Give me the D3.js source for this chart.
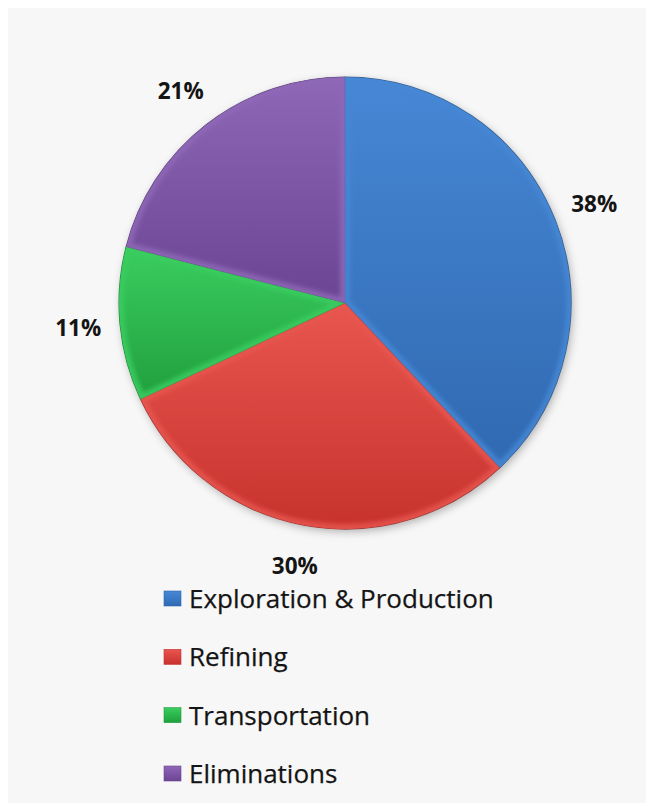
<!DOCTYPE html>
<html>
<head>
<meta charset="utf-8">
<script src="https://cdn.jsdelivr.net/npm/d3@7"></script>
<style>
  html, body { margin: 0; padding: 0; background: #ffffff; }
  svg { display: block; }
</style>
</head>
<body>
<svg id="chart" width="653" height="806"></svg>
<script>
// Segment shares (percent) and their display order, clockwise from 12 o'clock
const segments = ["Exploration & Production", "Refining", "Transportation", "Eliminations"];
const shares = [38, 30, 11, 21];
const shareLabels = ["38%", "30%", "11%", "21%"];

// Base, light and dark tones per segment
const baseColors  = ["#3c7bc8", "#dc4440", "#2cb94d", "#7f56a9"];
const lightColors = ["#4787d5", "#e85650", "#3acd5f", "#8e68b7"];
const darkColors  = ["#3069b1", "#c7322d", "#219f3e", "#6b4593"];

const W = 653, H = 806;
const cx = 345, cy = 303, R = 226, labelR = 268;

const svg = d3.select("#chart");
const defs = svg.append("defs");

// Background panel
svg.append("rect").attr("x", 8).attr("y", 8)
  .attr("width", 638).attr("height", 795)
  .attr("fill", "#f7f7f7");

// Soft drop shadow under the pie
const shadow = defs.append("filter").attr("id", "pieShadow")
  .attr("x", "-20%").attr("y", "-20%").attr("width", "140%").attr("height", "140%");
shadow.append("feDropShadow").attr("dx", 2).attr("dy", 3)
  .attr("stdDeviation", 4).attr("flood-color", "#000").attr("flood-opacity", 0.28);

// Blur used for the bevel highlight
defs.append("filter").attr("id", "bevelBlur")
  .append("feGaussianBlur").attr("stdDeviation", 2.2);

// Gradients for slices and legend swatches
segments.forEach((s, i) => {
  const g = defs.append("linearGradient").attr("id", "grad" + i)
    .attr("x1", 0).attr("y1", 0).attr("x2", 0).attr("y2", 1);
  g.append("stop").attr("offset", "0%").attr("stop-color", lightColors[i]);
  g.append("stop").attr("offset", "100%").attr("stop-color", darkColors[i]);

  const sg = defs.append("linearGradient").attr("id", "sw" + i)
    .attr("x1", 0).attr("y1", 0).attr("x2", 0).attr("y2", 1);
  sg.append("stop").attr("offset", "0%").attr("stop-color", lightColors[i]);
  sg.append("stop").attr("offset", "45%").attr("stop-color", baseColors[i]);
  sg.append("stop").attr("offset", "100%").attr("stop-color", darkColors[i]);
});

const pie = d3.pie().value(d => d).sort(null);
const arcs = pie(shares);
const arc = d3.arc().innerRadius(0).outerRadius(R);
const labelArc = d3.arc().innerRadius(labelR).outerRadius(labelR);

const pieG = svg.append("g").attr("transform", `translate(${cx},${cy})`);

// Shadow layer
pieG.append("circle").attr("r", R).attr("fill", "#999").attr("filter", "url(#pieShadow)");

arcs.forEach((a, i) => {
  const clipId = "clip" + i;
  defs.append("clipPath").attr("id", clipId)
    .append("path").attr("d", arc(a)).attr("transform", `translate(${cx},${cy})`);

  pieG.append("path").attr("d", arc(a)).attr("fill", "url(#grad" + i + ")");

  // Bevel highlight along the slice edges
  const hl = svg.append("g").attr("clip-path", `url(#${clipId})`);
  hl.append("path").attr("d", arc(a))
    .attr("transform", `translate(${cx},${cy})`)
    .attr("fill", "none")
    .attr("stroke", lightColors[i])
    .attr("stroke-width", 10)
    .attr("stroke-opacity", 0.85)
    .attr("filter", "url(#bevelBlur)");
});

// Thin dark outlines
arcs.forEach((a, i) => {
  pieG.append("path").attr("d", arc(a))
    .attr("fill", "none")
    .attr("stroke", d3.color(darkColors[i]).darker(0.9))
    .attr("stroke-width", 1.1)
    .attr("stroke-opacity", 0.85)
    .attr("stroke-linejoin", "round");
});

// Percentage labels outside each slice
pieG.selectAll("text.pct").data(arcs).enter().append("text")
  .attr("class", "pct")
  .attr("transform", d => `translate(${labelArc.centroid(d)})`)
  .attr("text-anchor", "middle")
  .attr("dy", "0.33em")
  .attr("font-family", "'Open Sans', sans-serif")
  .attr("font-weight", "bold")
  .attr("font-size", 22.5)
  .attr("fill", "#141414")
  .text((d, i) => shareLabels[i]);

// Legend
const legendY = d3.scalePoint().domain(segments).range([608, 783]);
const legend = svg.append("g");
segments.forEach((s, i) => {
  const y = legendY(s);
  legend.append("rect")
    .attr("x", 164).attr("y", y - 17).attr("width", 17).attr("height", 15)
    .attr("fill", "url(#sw" + i + ")")
    .attr("stroke", darkColors[i]).attr("stroke-width", 0.6);
  legend.append("text")
    .attr("x", 189).attr("y", y)
    .attr("font-family", "'Open Sans', sans-serif")
    .attr("font-size", 26)
    .attr("fill", "#141414")
    .attr("stroke", "#141414")
    .attr("stroke-width", 0.25)
    .text(s);
});
</script>
</body>
</html>
